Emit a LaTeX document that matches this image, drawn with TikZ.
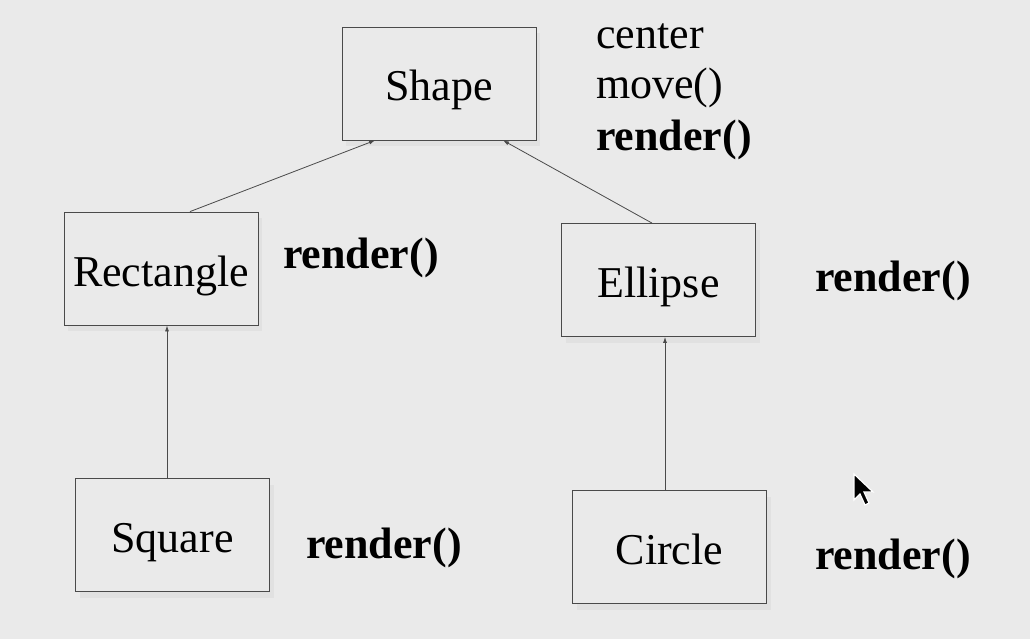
\documentclass[tikz,border=0pt]{standalone}
\usepackage{fontspec}
\setmainfont{Liberation Serif}
\usetikzlibrary{shadows,arrows.meta}
\definecolor{bggray}{HTML}{EAEAEA}
\definecolor{linegray}{HTML}{4A4A4A}

\begin{document}
\begin{tikzpicture}[x=1pt,y=-1pt,
    box/.style={draw=linegray,thick,fill=bggray,minimum width=194pt,minimum height=113pt,
      inner sep=0pt,text height=40pt,text depth=5pt,font=\fontsize{44}{50}\selectfont,
      drop shadow={opacity=0.08,shadow xshift=4pt,shadow yshift=-6pt}},
    op/.style={anchor=west,inner sep=0pt,font=\fontsize{44}{50}\selectfont\bfseries},
    attr/.style={anchor=west,inner sep=0pt,font=\fontsize{44}{50}\selectfont},
    link/.style={draw=linegray,line width=0.8pt,-{Latex[length=6pt,width=4pt]}}]
    \fill[bggray] (0,0) rectangle (1030,639);
    \useasboundingbox (0,0) rectangle (1030,639);

    \node[box] (shape) at (439,83.5) {Shape};
    \node[box] (rect) at (161,268.5) {Rectangle};
    \node[box] (ellipse) at (658.5,280) {Ellipse};
    \node[box] (square) at (172.5,535) {Square};
    \node[box] (circle) at (669.5,547) {Circle};

    \node[attr] (center) at (596,36) {center};
    \node[attr] (move) at (596,88) {move()};
    \node[op] (shaperender) at (596,140) {render()};
    \node[op] (rectrender) at (283,258) {render()};
    \node[op] (ellipserender) at (815,281) {render()};
    \node[op] (squarerender) at (306,548) {render()};
    \node[op] (circlerender) at (815,559) {render()};

    \draw[link] ([xshift=29pt]rect.north) -- ([xshift=-64pt]shape.south);
    \draw[link] ([xshift=-6.5pt]ellipse.north) -- ([xshift=64pt]shape.south);
    \draw[link] ([xshift=-5.5pt]square.north) -- ([xshift=6pt]rect.south);
    \draw[link] ([xshift=-4.5pt]circle.north) -- ([xshift=6.5pt]ellipse.south);

    % mouse pointer
    \filldraw[fill=black,draw=white,line width=1.2pt]
      (854,474) -- (854,500) -- (860,494) -- (865,505) -- (869,503) -- (864,492) -- (873,492) -- cycle;
  \end{tikzpicture}
\end{document}
